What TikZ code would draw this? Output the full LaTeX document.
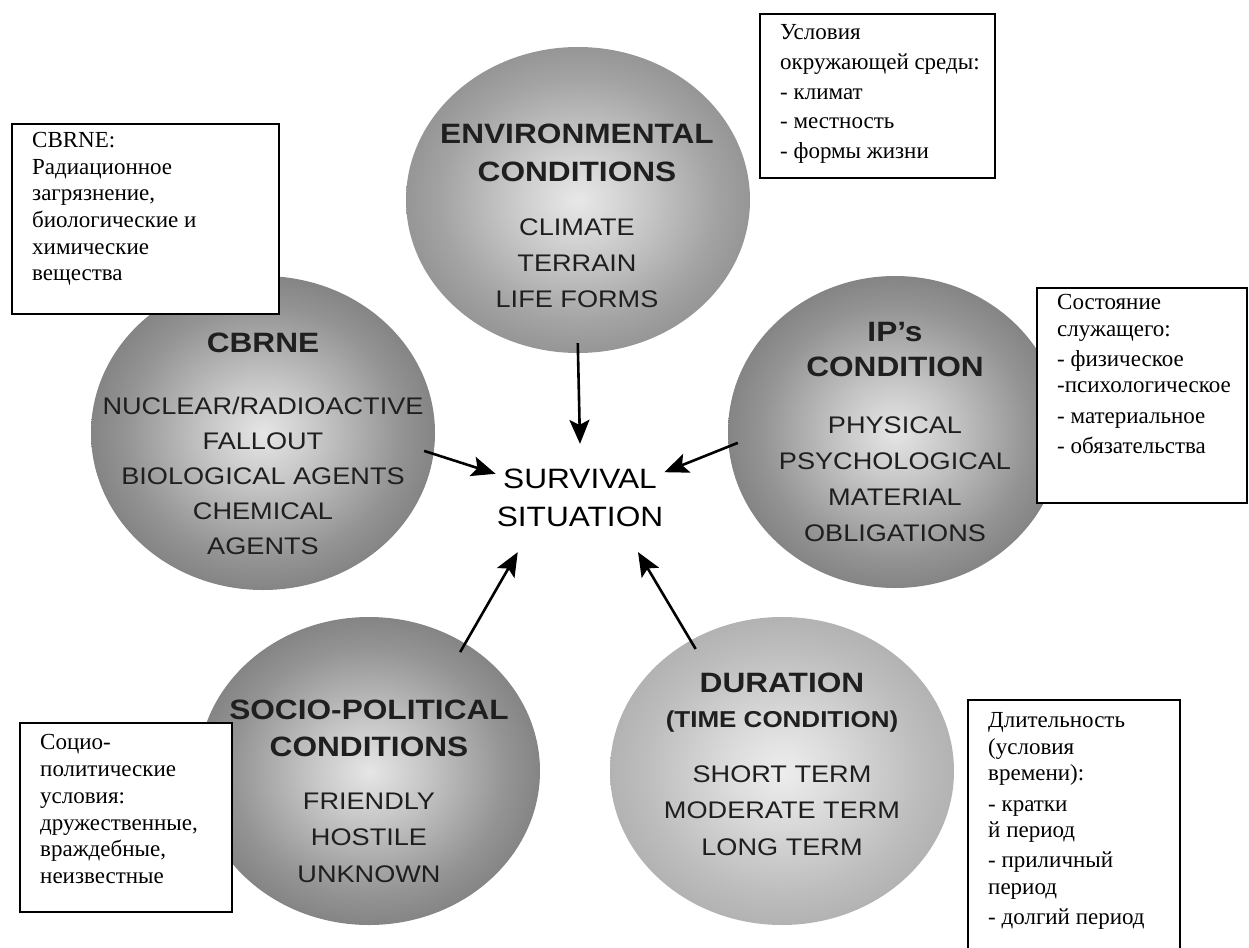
\documentclass[tikz,border=0pt]{standalone}
\usepackage{fontspec}
\setmainfont{Liberation Serif}
\newfontfamily\ballfont[FakeStretch=1.13]{Liberation Sans}
\usetikzlibrary{shapes.geometric,arrows.meta}
\pgfdeclareradialshading{darkball}{\pgfpoint{0bp}{0bp}}{color(0bp)=(black!10); color(8bp)=(black!22); color(20bp)=(black!42); color(35bp)=(black!60); color(50bp)=(black!76)}
\pgfdeclareradialshading{midball}{\pgfpoint{0bp}{0bp}}{color(0bp)=(black!9); color(8bp)=(black!19); color(20bp)=(black!36); color(35bp)=(black!52); color(50bp)=(black!66)}
\pgfdeclareradialshading{lightball}{\pgfpoint{0bp}{0bp}}{color(0bp)=(black!7); color(8bp)=(black!14); color(20bp)=(black!26); color(35bp)=(black!38); color(50bp)=(black!50)}
\tikzset{ball/.style={ellipse,minimum width=344pt,minimum height=308pt,inner sep=0pt}}
\tikzset{balltext/.style={align=center,text=black!88,font=\ballfont\fontsize{24}{35}\selectfont}}
\tikzset{note/.style={anchor=north west,inner sep=0pt,text width=250pt,align=flush left,font=\fontsize{23}{26.7}\selectfont}}
\tikzset{notebox/.style={draw=black,line width=1.4pt,fill=white}}
\tikzset{toArrow/.style={-{Stealth[length=24pt,width=20pt,inset=5pt]},line width=2.6pt,shorten <=-10pt}}
\newcommand{\headfont}{\ballfont\bfseries\fontsize{28}{35}\selectfont}

\begin{document}
\begin{tikzpicture}[x=1pt,y=-1pt]
\useasboundingbox (0,0) rectangle (1249,947);
\clip (0,0) rectangle (1249,947);

\node (env) [ball, shading=midball, minimum height=306pt] at (578,200) {};
\node (cbrne) [ball, shading=darkball, minimum height=314pt] at (263,433) {};
\node (ip) [ball, shading=darkball, minimum width=334pt, minimum height=312pt] at (895,432) {};
\node (socio) [ball, shading=darkball, minimum width=342pt] at (369,771) {};
\node (dur) [ball, shading=lightball] at (782,771) {};

\node (envtext) [balltext] at (577,216) {{\headfont ENVIRONMENTAL}\\[3pt]{\headfont CONDITIONS}\\[19pt]CLIMATE\\[1pt]TERRAIN\\[1pt]LIFE FORMS};
\node (cbrnetext) [balltext] at (263,444) {{\headfont CBRNE}\\[27pt]NUCLEAR/RADIOACTIVE\\FALLOUT\\BIOLOGICAL AGENTS\\CHEMICAL\\AGENTS};
\node (iptext) [balltext] at (895,432) {{\headfont IP’s}\\{\headfont CONDITION}\\[22pt]PHYSICAL\\[1pt]PSYCHOLOGICAL\\[1pt]MATERIAL\\[1pt]OBLIGATIONS};
\node (sociotext) [balltext] at (369,791) {{\headfont SOCIO-POLITICAL}\\[2pt]{\headfont CONDITIONS}\\[18pt]FRIENDLY\\[1.5pt]HOSTILE\\[1.5pt]UNKNOWN};
\node (durtext) [balltext] at (782,764) {{\headfont DURATION}\\{\ballfont\bfseries\fontsize{23}{35}\selectfont (TIME CONDITION)}\\[20pt]SHORT TERM\\[1.5pt]MODERATE TERM\\[1.5pt]LONG TERM};

\node (surv) [balltext, text=black, font=\ballfont\fontsize{28}{38}\selectfont, inner xsep=1pt, inner ysep=25pt] at (580,498) {SURVIVAL\\SITUATION};

\draw [toArrow] (env.south) -- (surv.north);
\draw [toArrow] (cbrne.-7) -- (surv.164);
\draw [toArrow] (ip.185) -- (surv.17);
\draw [toArrow] (socio.53) -- (surv.221);
\draw [toArrow] (dur.125) -- (surv.-43);

\draw [notebox] (760,14) rectangle (995,178);
\node (envnote) [note] at (780,21) {\strut Условия\\[3pt]окружающей среды:\\[3pt]- климат\\[3pt]- местность\\[3pt]- формы жизни};

\draw [notebox] (12,124) rectangle (279,314);
\node (cbrnenote) [note] at (32,128.5) {\strut CBRNE:\\Радиационное\\загрязнение,\\биологические и\\химические\\вещества};

\draw [notebox] (1037,288) rectangle (1247,503);
\node (ipnote) [note] at (1057,290.5) {\strut Состояние\\служащего:\\[3.5pt]- физическое\\-психологическое\\[3.5pt]- материальное\\[3.5pt]- обязательства};

\draw [notebox] (20,723) rectangle (232,912);
\node (socionote) [note] at (40,731) {\strut Социо-\\политические\\условия:\\дружественные,\\враждебные,\\неизвестные};

\draw [notebox] (968,700) rectangle (1180,960);
\node (durnote) [note] at (988,708.5) {\strut Длительность\\(условия\\времени):\\[3.5pt]- кратки\\й период\\[3.5pt]- приличный\\период\\[3.5pt]- долгий период};
\end{tikzpicture}
\end{document}
